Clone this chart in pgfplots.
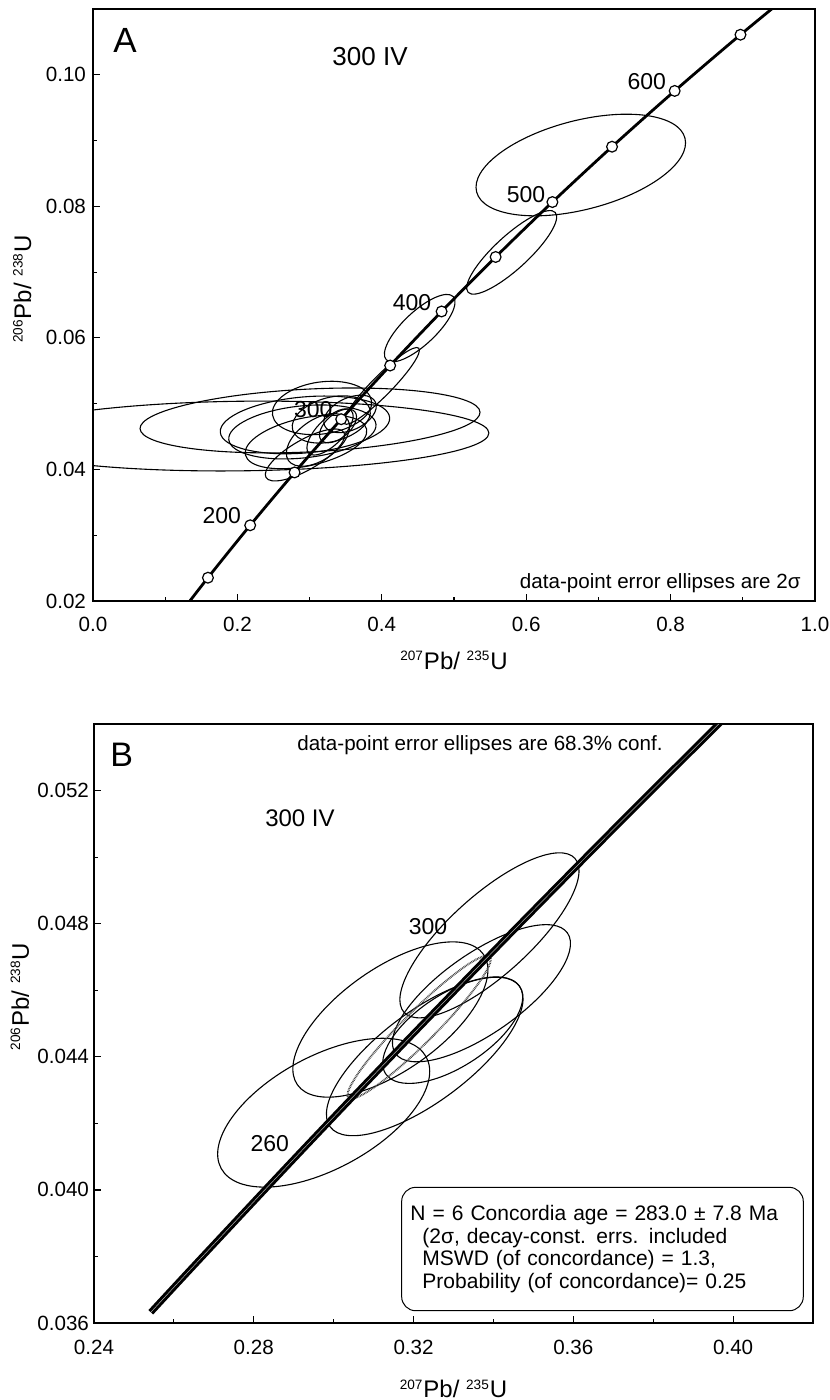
\documentclass[border=0pt]{standalone}
\usepackage{fontspec}
\setmainfont{Liberation Sans}
\usepackage{pgfplots}
\pgfplotsset{compat=1.18}
\tikzset{ell/.style={line width=0.55pt, black}}
\pgfplotsset{
  common/.style={
    scale only axis,
    anchor=south west,
    axis line style={line width=0.6pt},
    every tick/.style={line width=0.6pt, black},
    major tick length=3.3pt,
    minor tick length=2.2pt,
    tick pos=left,
    tick align=inside,
    /pgf/number format/assume math mode=true,
    /pgf/number format/fixed,
    /pgf/number format/fixed zerofill,
    ticklabel style={font=\fontsize{10.3}{12}\selectfont},
    label style={font=\fontsize{12}{14}\selectfont},
  },
}
\begin{document}
\begin{tikzpicture}
\useasboundingbox (0pt,0pt) rectangle (414.5pt,-700pt);
% ---------------- Panel A ----------------
\begin{axis}[common,
  at={(46.5pt,-300.5pt)},
  width=361pt, height=296pt,
  xmin=0, xmax=1, ymin=0.02, ymax=0.11,
  xtick={0,0.2,0.4,0.6,0.8,1.0}, minor xtick={0.1,0.3,0.5,0.7,0.9},
  ytick={0.02,0.04,0.06,0.08,0.10}, minor ytick={0.03,0.05,0.07,0.09},
  xticklabel style={/pgf/number format/precision=1},
  yticklabel style={/pgf/number format/precision=2},
  xticklabel shift=4.3pt,
  scaled ticks=false,
  xlabel={\textsuperscript{\fontsize{6.8}{7}\selectfont 207}Pb/ \textsuperscript{\fontsize{6.8}{7}\selectfont 235}U},
  ylabel={\textsuperscript{\fontsize{6.8}{7}\selectfont 206}Pb/ \textsuperscript{\fontsize{6.8}{7}\selectfont 238}U},
  xlabel style={at={(axis description cs:0.5,-0.1)}, anchor=center},
  ylabel style={at={(axis description cs:-0.098,0.527)}, anchor=center},
]
% error ellipses
\draw[ell] (axis cs:0.6756,0.08628) ellipse [x radius=53.8pt, y radius=22.25pt, rotate=14.5];
\draw[ell] (axis cs:0.5799,0.07300) ellipse [x radius=29.55pt, y radius=8.35pt, rotate=42.5];
\draw[ell] (axis cs:0.4525,0.06148) ellipse [x radius=23pt, y radius=8.2pt, rotate=43.3];
\draw[ell] (axis cs:0.3996,0.05270) ellipse [x radius=26.5pt, y radius=5pt, rotate=45.4];
\draw[ell] (axis cs:0.2060,0.04508) ellipse [x radius=123.6pt, y radius=17.4pt, rotate=0.7];
\draw[ell] (axis cs:0.3006,0.04745) ellipse [x radius=85.1pt, y radius=15.7pt, rotate=2.8];
\draw[ell] (axis cs:0.2936,0.04677) ellipse [x radius=42.5pt, y radius=14pt, rotate=5];
\draw[ell] (axis cs:0.2900,0.04570) ellipse [x radius=37pt, y radius=13pt, rotate=6];
\draw[ell] (axis cs:0.2950,0.04418) ellipse [x radius=31pt, y radius=12pt, rotate=12];
\draw[ell] (axis cs:0.3172,0.04935) ellipse [x radius=25pt, y radius=13pt, rotate=8];
\draw[ell] (axis cs:0.3116,0.04449) ellipse [x radius=18pt, y radius=10pt, rotate=35];
\draw[ell] (axis cs:0.3283,0.04570) ellipse [x radius=15pt, y radius=6.5pt, rotate=45];
\draw[ell] (axis cs:0.3393,0.04662) ellipse [x radius=11pt, y radius=6pt, rotate=40];
\draw[ell] (axis cs:0.2936,0.04220) ellipse [x radius=22.5pt, y radius=7.5pt, rotate=30];
\draw[ell] (axis cs:0.3560,0.04844) ellipse [x radius=14pt, y radius=8pt, rotate=25];
\draw[ell] (axis cs:0.3300,0.04760) ellipse [x radius=20pt, y radius=11pt, rotate=15];
% concordia
\addplot[black, line width=1.4pt, smooth] coordinates {
 (0.10350,0.015633) (0.15920,0.023541) (0.21771,0.031511) (0.27917,0.039543)
 (0.34374,0.047637) (0.41156,0.055795) (0.48281,0.064016) (0.55766,0.072300)
 (0.63628,0.080650) (0.71887,0.089064) (0.80563,0.097544) (0.89677,0.106090)
 (0.99251,0.114703)};
\addplot[only marks, mark=*, mark size=2.7pt, mark options={fill=white, draw=black, line width=0.6pt}] coordinates {
 (0.15920,0.023541) (0.21771,0.031511) (0.27917,0.039543)
 (0.34374,0.047637) (0.41156,0.055795) (0.48281,0.064016) (0.55766,0.072300)
 (0.63628,0.080650) (0.71887,0.089064) (0.80563,0.097544) (0.89677,0.106090)};
% age labels
\node[font=\fontsize{11.5}{13}\selectfont] at (axis cs:0.1783,0.03293) {200};
\node[font=\fontsize{11.5}{13}\selectfont] at (axis cs:0.3051,0.04905) {300};
\node[font=\fontsize{11.5}{13}\selectfont] at (axis cs:0.4418,0.06532) {400};
\node[font=\fontsize{11.5}{13}\selectfont] at (axis cs:0.5997,0.08175) {500};
\node[font=\fontsize{11.5}{13}\selectfont] at (axis cs:0.7669,0.09898) {600};
\node[font=\fontsize{17.5}{19}\selectfont] at (rel axis cs:0.0443,0.9465) {A};
\node[font=\fontsize{13}{15}\selectfont] at (rel axis cs:0.3837,0.919) {300 IV};
\node[font=\fontsize{10.3}{12}\selectfont, anchor=base east, inner sep=0pt] at (rel axis cs:0.9806,0.0203) {data-point error ellipses are 2σ};
\end{axis}
% ---------------- Panel B ----------------
\begin{axis}[common,
  at={(47pt,-661.5pt)},
  width=359.5pt, height=299.5pt,
  xmin=0.24, xmax=0.42, ymin=0.036, ymax=0.054,
  xtick={0.24,0.28,0.32,0.36,0.40}, minor xtick={0.26,0.30,0.34,0.38,0.42},
  ytick={0.036,0.040,0.044,0.048,0.052}, minor ytick={0.038,0.042,0.046,0.050,0.054},
  xticklabel style={/pgf/number format/precision=2},
  yticklabel style={/pgf/number format/precision=3},
  xticklabel shift=5pt,
  yticklabel shift=-1pt,
  scaled ticks=false,
  xlabel={\textsuperscript{\fontsize{6.8}{7}\selectfont 207}Pb/ \textsuperscript{\fontsize{6.8}{7}\selectfont 235}U},
  ylabel={\textsuperscript{\fontsize{6.8}{7}\selectfont 206}Pb/ \textsuperscript{\fontsize{6.8}{7}\selectfont 238}U},
  xlabel style={at={(axis description cs:0.5,-0.11)}, anchor=center},
  ylabel style={at={(axis description cs:-0.103,0.545)}, anchor=center},
]
\draw[ell] (axis cs:0.2975,0.04232) ellipse [x radius=58.35pt, y radius=28.1pt, rotate=28.5];
\draw[ell] (axis cs:0.3142,0.04512) ellipse [x radius=56.8pt, y radius=25.65pt, rotate=35.1];
\draw[ell] (axis cs:0.3228,0.04401) ellipse [x radius=58.95pt, y radius=22.6pt, rotate=36.7];
\draw[ell] (axis cs:0.3298,0.04480) ellipse [x radius=40pt, y radius=18.25pt, rotate=33];
\draw[ell] (axis cs:0.3370,0.04591) ellipse [x radius=52.5pt, y radius=20pt, rotate=35];
\draw[ell] (axis cs:0.3390,0.04765) ellipse [x radius=57.5pt, y radius=20pt, rotate=42];
\draw[black!75, line width=1pt, dash pattern=on 0.4pt off 0.4pt] (axis cs:0.3214,0.04489) ellipse [x radius=50pt, y radius=8pt, rotate=45];
% concordia band
\addplot[black, line width=1.5pt, double=white!70!black, double distance=0.25pt, smooth] coordinates {
 (0.25422,0.036323) (0.26664,0.037932) (0.29183,0.041157) (0.31753,0.044392)
 (0.34374,0.047637) (0.37047,0.050893) (0.39773,0.054158)};
\node[font=\fontsize{11.5}{13}\selectfont] at (axis cs:0.3236,0.04790) {300};
\node[font=\fontsize{11.5}{13}\selectfont] at (axis cs:0.2840,0.04140) {260};
\node[font=\fontsize{17}{19}\selectfont] at (rel axis cs:0.0385,0.948) {B};
\node[font=\fontsize{12}{14}\selectfont] at (rel axis cs:0.2865,0.843) {300 IV};
\node[font=\fontsize{10.3}{12}\selectfont, anchor=base east, inner sep=0pt] at (rel axis cs:0.7914,0.9566) {data-point error ellipses are 68.3\% conf.};
\node[draw, line width=0.5pt, rounded corners=7pt, minimum width=200.8pt, minimum height=61.7pt, text width=192pt, inner sep=4pt, align=left, font=\fontsize{10.5}{11.4}\selectfont, fill=white] at (rel axis cs:0.7072,0.1235) {N = 6 Concordia age = 283.0 ± 7.8 Ma\\\hspace*{6pt}(2σ, decay-const. errs. included\\\hspace*{6pt}MSWD (of concordance) = 1.3,\\\hspace*{6pt}Probability (of concordance)= 0.25};
\end{axis}
\end{tikzpicture}
\end{document}
